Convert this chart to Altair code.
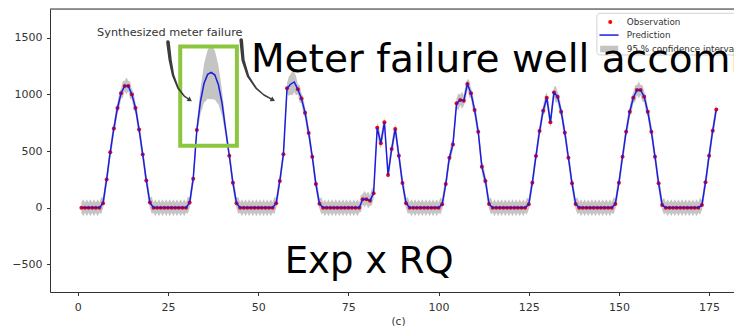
import altair as alt
import pandas as pd

# ---------------- data ----------------
# hourly index 1..177
t_values = list(range(1, 178))

# observations (None = meter failure / missing)
obs = [
    0, 0, 0, 0, 0, 0, 40, 250, 490, 700, 880, 1010, 1075, 1075, 1000, 880, 690, 470, 240, 45, 0, 0, 0, 0,
    0, 0, 0, 0, 0, 0, 45, 255, 686, None, None, None, None, None, None, None, None, 459, 220, 40, 0, 0, 0, 0,
    0, 0, 0, 0, 0, 0, 40, 236, 471, 1054, None, None, 1045, 965, 839, 660, 450, 209, 35, 0, 0, 0, 0, 0,
    0, 0, 0, 0, 0, 0, 75, 75, 62, 127, 706, 568, 754, 289, 518, 695, 459, 218, 39, 0, 0, 0, 0, 0,
    0, 0, 0, 0, 30, 209, 441, 559, 921, 951, 945, 1092, 1010, 862, 671, 362, 236, 33, 0, 0, 0, 0, 0, 0,
    0, 0, 0, 0, 30, 221, 456, 677, 856, 971, 754, 1018, 980, 847, 662, 441, 215, 33, 0, 0, 0, 0, 0, 0,
    0, 0, 0, 0, 33, 221, 450, 671, 847, 971, 1039, 1039, 980, 847, 671, 450, 215, 24, 0, 0, 0, 0, 0, 0,
    0, 0, 0, 0, 24, 224, 459, 680, 868,
]

# prediction inside the gaps
gap_t = [34, 35, 36, 37, 38, 39, 40, 41, 59, 60]
gap_pred = [936, 1098, 1177, 1195, 1171, 1083, 921, 686, 1090, 1110]

# 95 % CI half width at each hour
hw_pt = [
    45, 45, 45, 45, 45, 45, 45, 45, 45, 45, 45, 45, 45, 45, 45, 45, 45, 45, 45, 45, 45, 45, 45, 45,
    45, 45, 45, 45, 45, 45, 45, 45, 40, 110, 170, 215, 235, 215, 170, 110, 60, 35, 45, 45, 45, 45, 45, 45,
    45, 45, 45, 45, 45, 45, 45, 45, 45, 45, 90, 90, 45, 45, 45, 45, 45, 45, 45, 45, 45, 45, 45, 45,
    45, 45, 45, 45, 45, 45, 45, 45, 45, 45, 45, 45, 45, 45, 45, 45, 45, 45, 45, 45, 45, 45, 45, 45,
    45, 45, 45, 45, 45, 45, 45, 45, 45, 45, 45, 45, 45, 45, 45, 45, 45, 45, 45, 45, 45, 45, 45, 45,
    45, 45, 45, 45, 45, 45, 45, 45, 45, 45, 45, 45, 45, 45, 45, 45, 45, 45, 45, 45, 45, 45, 45, 45,
    45, 45, 45, 45, 45, 45, 45, 45, 45, 45, 45, 45, 45, 45, 45, 45, 45, 45, 45, 45, 45, 45, 45, 45,
    45, 45, 45, 45, 45, 45, 45, 45, 45,
]
# 95 % CI half width half-way between hours
hw_mid = [
    75, 75, 75, 75, 75, 75, 75, 75, 75, 75, 75, 75, 75, 75, 75, 75, 75, 75, 75, 75, 75, 75, 75, 75,
    75, 75, 75, 75, 75, 75, 75, 75, 80, 140, 195, 228, 228, 195, 140, 85, 55, 75, 75, 75, 75, 75, 75, 75,
    75, 75, 75, 75, 75, 75, 75, 75, 75, 85, 110, 85, 75, 75, 75, 75, 75, 75, 75, 75, 75, 75, 75, 75,
    75, 75, 75, 75, 75, 75, 75, 75, 75, 75, 75, 75, 75, 75, 75, 75, 75, 75, 75, 75, 75, 75, 75, 75,
    75, 75, 75, 75, 75, 75, 75, 75, 75, 75, 75, 75, 75, 75, 75, 75, 75, 75, 75, 75, 75, 75, 75, 75,
    75, 75, 75, 75, 75, 75, 75, 75, 75, 75, 75, 75, 75, 75, 75, 75, 75, 75, 75, 75, 75, 75, 75, 75,
    75, 75, 75, 75, 75, 75, 75, 75, 75, 75, 75, 75, 75, 75, 75, 75, 75, 75, 75, 75, 75, 75, 75, 75,
    75, 75, 75, 75, 75, 75, 75, 75,
]

x_ticks = [0, 25, 50, 75, 100, 125, 150, 175]
y_ticks = [-500, 0, 500, 1000, 1500]

# annotation anchors (data coordinates)
failure_box = {"t": [28.4], "t2": [44.1], "v": [1424], "v2": [547]}
arrow_left_t = [25.0, 25.6, 26.4, 27.8, 29.5, 31.1]
arrow_left_v = [1462, 1304, 1171, 1056, 986, 951]
arrow_right_t = [45.3, 45.8, 47.2, 49.4, 51.6, 54.1]
arrow_right_v = [1480, 1304, 1162, 1056, 995, 951]
arrow_width = [3.6, 3.2, 2.4, 1.8, 1.5, 1.4]

# ---------------- tables ----------------
pred = list(obs)
for gt, gp in zip(gap_t, gap_pred):
    pred[gt - 1] = gp

df_obs = pd.DataFrame({"t": t_values, "v": obs}).dropna()
df_pred = pd.DataFrame({"t": t_values, "v": pred})

band_rows = []
for i, tt in enumerate(t_values):
    band_rows.append({"t": tt, "lo": pred[i] - hw_pt[i], "hi": pred[i] + hw_pt[i]})
    if i < len(t_values) - 1:
        c = (pred[i] + pred[i + 1]) / 2
        band_rows.append({"t": tt + 0.5, "lo": c - hw_mid[i], "hi": c + hw_mid[i]})
df_band = pd.DataFrame(band_rows)

arrows = []
for name, ts, vs in [("l", arrow_left_t, arrow_left_v), ("r", arrow_right_t, arrow_right_v)]:
    for i, (a, b) in enumerate(zip(ts, vs)):
        arrows.append({"arrow": name, "i": i, "t": a, "v": b, "w": arrow_width[i]})
df_arrows = pd.DataFrame(arrows)
df_heads = pd.DataFrame({"t": [arrow_left_t[-1], arrow_right_t[-1]],
                         "v": [arrow_left_v[-1], arrow_right_v[-1]],
                         "ang": [34, 29]})

# ---------------- scales / axes ----------------
xs = alt.Scale(domain=[-7.7, 181.9], nice=False, zero=False)
ys = alt.Scale(domain=[-744, 1754], nice=False, zero=False)
FONT = "DejaVu Sans"
xaxis = alt.Axis(values=x_ticks, grid=False, labelFont=FONT, labelFontSize=11, labelColor="#333",
                 tickColor="#333", domainColor="#333", tickSize=3.5, labelPadding=5.5,
                 titleFont=FONT, titleFontSize=10.5, titleFontWeight="normal", titleColor="#333",
                 titleX=348, titleY=32.5, titleAlign="center", titleBaseline="alphabetic",
                 labelOverlap=False)
yaxis = alt.Axis(values=y_ticks, grid=False, format="d", labelFont=FONT, labelFontSize=11,
                 labelColor="#333", tickColor="#333", domainColor="#333", tickSize=3.5,
                 labelPadding=4.5, title=None)


def X(f):
    return alt.X(f, scale=xs, axis=xaxis, title="(c)")


def Y(f):
    return alt.Y(f, scale=ys, axis=yaxis, title=None)


band = alt.Chart(df_band).mark_area(color="#8a8a8a", opacity=0.5).encode(
    x=X("t:Q"), y=Y("lo:Q"), y2="hi:Q")
dots = alt.Chart(df_obs).mark_circle(color="#ff0000", size=16, opacity=1).encode(
    x=X("t:Q"), y=Y("v:Q"))
line = alt.Chart(df_pred).mark_line(color="#1c1ce0", strokeWidth=1.5).encode(
    x=X("t:Q"), y=Y("v:Q"))

top_spine = alt.Chart(pd.DataFrame({"a": [0]})).mark_rule(color="#333", strokeWidth=1).encode(
    x=alt.value(0), x2=alt.value(700), y=alt.value(0))

box = alt.Chart(pd.DataFrame(failure_box)).mark_rect(
    filled=False, color="#8cc63f", strokeWidth=4).encode(
    x=X("t:Q"), x2="t2:Q", y=Y("v:Q"), y2="v2:Q")

arrow_lines = alt.Chart(df_arrows).mark_trail(color="#3c3c3c").encode(
    x=X("t:Q"), y=Y("v:Q"), size=alt.Size("w:Q", scale=None, legend=None),
    detail="arrow:N", order="i:Q")
heads = alt.Chart(df_heads).mark_point(shape="triangle-right", filled=True, color="#3c3c3c",
                                       size=28, opacity=1).encode(
    x=X("t:Q"), y=Y("v:Q"), angle=alt.Angle("ang:Q", scale=None))

synth = alt.Chart(pd.DataFrame({"t": [25.5], "v": [1515], "s": ["Synthesized meter failure"]})).mark_text(
    font=FONT, fontSize=11.3, color="#333", align="center", baseline="alphabetic").encode(
    x=X("t:Q"), y=Y("v:Q"), text="s:N")

# legend (drawn as marks, partially cut by the right edge like the reference)
leg_box = alt.Chart(pd.DataFrame({"t": [143.9], "t2": [195.0], "v": [1716], "v2": [1348]})).mark_rect(
    fill="white", opacity=0.85, stroke="#cccccc", strokeWidth=1, cornerRadius=3).encode(
    x=X("t:Q"), x2="t2:Q", y=Y("v:Q"), y2="v2:Q")
leg_dot = alt.Chart(pd.DataFrame({"t": [147.6], "v": [1639]})).mark_circle(
    color="#ff0000", size=16, opacity=1).encode(x=X("t:Q"), y=Y("v:Q"))
leg_line = alt.Chart(pd.DataFrame({"t": [144.6], "t2": [149.9], "v": [1524]})).mark_rule(
    color="#1c1ce0", strokeWidth=1.5).encode(x=X("t:Q"), x2="t2:Q", y=Y("v:Q"))
leg_patch = alt.Chart(pd.DataFrame({"t": [144.8], "t2": [149.8], "v": [1430], "v2": [1372]})).mark_rect(
    color="#8a8a8a", opacity=0.5).encode(x=X("t:Q"), x2="t2:Q", y=Y("v:Q"), y2="v2:Q")
leg_text = alt.Chart(pd.DataFrame({
    "t": [152.2, 152.2, 152.2], "v": [1639, 1524, 1401],
    "s": ["Observation", "Prediction", "95 % confidence interval"]})).mark_text(
    font=FONT, fontSize=8.8, color="#333", align="left", baseline="middle").encode(
    x=X("t:Q"), y=Y("v:Q"), text="s:N")

big1 = alt.Chart(pd.DataFrame({"t": [48.0], "v": [1198], "s": ["Meter failure well accommodated"]})).mark_text(
    font=FONT, fontSize=39, color="#000", align="left", baseline="alphabetic").encode(
    x=X("t:Q"), y=Y("v:Q"), text="s:N")
big2 = alt.Chart(pd.DataFrame({"t": [57.35], "v": [-574], "s": ["Exp x RQ"]})).mark_text(
    font=FONT, fontSize=37, color="#000", align="left", baseline="alphabetic").encode(
    x=X("t:Q"), y=Y("v:Q"), text="s:N")

chart = alt.layer(
    band, dots, line, top_spine, box, arrow_lines, heads, synth,
    leg_box, leg_dot, leg_line, leg_patch, leg_text, big1, big2,
).properties(
    width=684, height=283,
    autosize=alt.AutoSizeParams(type="none"),
    padding={"left": 50, "top": 9, "right": 0, "bottom": 34},
).configure_view(stroke=None).configure(background="white")

chart.save("out.html", embed_options={"renderer": "svg", "actions": False})
